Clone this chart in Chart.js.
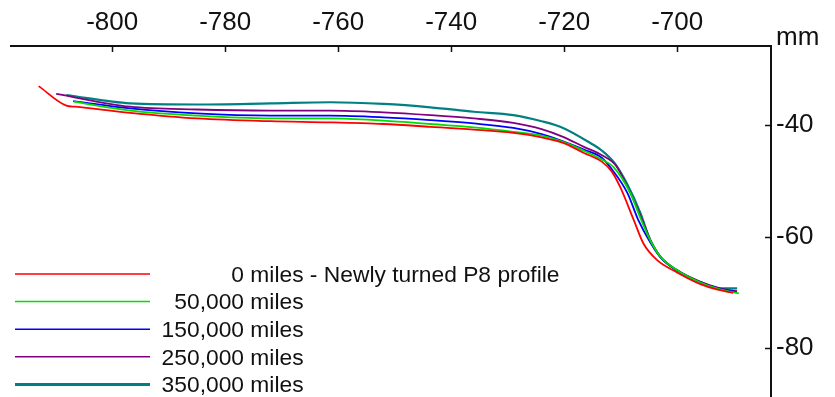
<!DOCTYPE html>
<html>
<head>
<meta charset="utf-8">
<script src="https://cdn.jsdelivr.net/npm/chart.js@4/dist/chart.umd.min.js"></script>
<style>
html, body { margin: 0; padding: 0; background: #fff; }
#wrap { width: 835px; height: 397px; position: relative; }
</style>
</head>
<body>
<div id="wrap"><canvas id="profile"></canvas></div>
<script>
// axis ticks
const xTicks = [-800, -780, -760, -740, -720, -700]
const yTicks = [-40, -60, -80]

const seriesLabels = [
    '0 miles - Newly turned P8 profile',
    '50,000 miles',
    '150,000 miles',
    '250,000 miles',
    '350,000 miles'
]
const seriesColors = ['#ff0000', '#00dd00', '#0000ff', '#800080', '#008080']

// wheel profiles (mm)
const miles0X = [-813.0, -808.1, -806.5, -796.8, -785.0, -772.0, -761.4, -752.0, -743.7, -736.0, -729.0, -724.0, -720.2, -716.5, -713.3, -711.6, -710.1, -707.7, -706.0, -703.6, -700.1, -696.0, -693.0, -690.1]
const miles0Y = [-33.0, -36.5, -36.7, -37.8, -38.8, -39.3, -39.5, -39.8, -40.3, -40.8, -41.4, -42.2, -43.2, -45.0, -46.6, -48.3, -51.1, -57.0, -61.2, -64.2, -66.4, -68.5, -69.5, -70.1]

const miles50kX = [-806.8, -796.8, -785.0, -772.0, -761.4, -752.0, -743.7, -736.0, -729.0, -724.0, -720.2, -716.5, -713.3, -711.3, -708.3, -706.5, -704.7, -703.0, -700.1, -696.0, -692.4, -689.1]
const miles50kY = [-35.8, -37.4, -38.3, -38.8, -38.8, -39.2, -39.8, -40.4, -41.2, -41.9, -43.0, -44.6, -46.2, -47.5, -52.2, -56.7, -60.8, -63.6, -66.0, -68.2, -69.5, -70.2]

const miles150kX = [-806.9, -796.8, -785.0, -772.0, -761.4, -752.0, -743.7, -736.0, -729.0, -724.0, -720.2, -716.5, -713.3, -711.9, -708.8, -706.9, -704.8, -703.0, -700.1, -696.0, -692.4, -689.5]
const miles150kY = [-35.7, -37.0, -37.9, -38.3, -38.3, -38.6, -39.1, -39.7, -40.5, -41.6, -42.9, -44.4, -45.9, -47.5, -52.2, -57.0, -61.0, -63.7, -66.1, -68.2, -69.4, -70.0]

const miles250kX = [-809.9, -796.8, -785.0, -772.0, -761.4, -752.0, -743.7, -736.0, -729.0, -724.0, -720.2, -716.5, -713.3, -710.8, -708.6, -706.4, -704.7, -703.0, -700.1, -696.0, -692.4, -689.4]
const miles250kY = [-34.4, -36.7, -37.2, -37.4, -37.4, -37.7, -38.2, -38.8, -39.6, -40.7, -42.1, -43.9, -45.4, -47.3, -51.5, -56.5, -60.7, -63.6, -66.0, -68.1, -69.3, -69.8]

const miles350kX = [-808.1, -796.8, -785.0, -772.0, -761.4, -752.0, -743.7, -736.0, -729.0, -724.0, -720.2, -715.4, -713.3, -711.1, -708.9, -706.5, -704.8, -703.0, -700.1, -696.0, -692.4, -689.4]
const miles350kY = [-34.6, -36.1, -36.3, -36.1, -35.9, -36.2, -36.8, -37.6, -38.2, -39.3, -40.5, -43.2, -44.6, -46.8, -50.5, -55.8, -60.6, -63.6, -66.0, -68.1, -69.3, -69.3]

const seriesX = [miles0X, miles50kX, miles150kX, miles250kX, miles350kX]
const seriesY = [miles0Y, miles50kY, miles150kY, miles250kY, miles350kY]

const FONT = "'Liberation Sans', Arial, sans-serif"

const toPoints = (xs, ys) => xs.map((x, i) => ({ x: x, y: ys[i] }))

const datasets = seriesLabels.map((label, i) => ({
    label: label,
    data: toPoints(seriesX[i], seriesY[i]),
    borderColor: seriesColors[i],
    borderWidth: i === 4 ? 2.2 : 1.8,
    pointRadius: 0,
    fill: false,
    cubicInterpolationMode: 'monotone'
}))

// no extra room for half labels at the axis ends
const noEndPadding = s => {
    s.paddingTop = 0
    s.paddingBottom = 0
    s.paddingLeft = 0
    s.paddingRight = 0
}

// short tick marks pointing into the plot, plus the unit and the legend
const decorations = {
    id: 'decorations',
    afterDraw(chart) {
        const c = chart.ctx
        const area = chart.chartArea
        const xs = chart.scales.x
        const ys = chart.scales.y
        c.save()
        c.strokeStyle = '#111'
        c.lineWidth = 1.5
        c.beginPath()
        xTicks.forEach(v => {
            const px = Math.round(xs.getPixelForValue(v)) + 0.5
            c.moveTo(px, area.top)
            c.lineTo(px, area.top + 6)
        })
        yTicks.forEach(v => {
            const py = Math.round(ys.getPixelForValue(v)) + 0.5
            c.moveTo(area.right - 6, py)
            c.lineTo(area.right, py)
        })
        c.stroke()

        c.fillStyle = '#111'
        c.font = '26px ' + FONT
        c.textAlign = 'left'
        c.textBaseline = 'middle'
        c.fillText('mm', area.right + 5, 38)

        // legend
        c.font = '22.8px ' + FONT
        chart.data.datasets.forEach((ds, i) => {
            const y = 274 + i * 27.6
            c.strokeStyle = ds.borderColor
            c.lineWidth = i === 4 ? 3 : 1.5
            c.beginPath()
            c.moveTo(15, y)
            c.lineTo(150, y)
            c.stroke()
            const num = ds.label.split(' ')[0]
            const rest = ds.label.slice(num.length)
            c.fillStyle = '#111'
            c.textAlign = 'right'
            c.fillText(num, 244, y + 1.5)
            c.textAlign = 'left'
            c.fillText(rest, 244, y + 1.5)
        })
        c.restore()
    }
}

new Chart(document.getElementById('profile'), {
    type: 'line',
    data: { datasets: datasets },
    options: {
        responsive: true,
        maintainAspectRatio: false,
        animation: false,
        layout: { padding: { left: 11, top: 0, right: 0, bottom: 0 } },
        plugins: {
            legend: { display: false },
            tooltip: { enabled: false }
        },
        scales: {
            x: {
                type: 'linear',
                position: 'top',
                min: -817.9,
                max: -683.4,
                afterBuildTicks: s => { s.ticks = xTicks.map(v => ({ value: v })) },
                afterFit: s => { s.height = 46; noEndPadding(s) },
                grid: { drawOnChartArea: false, drawTicks: false },
                border: { display: true, color: '#111', width: 2 },
                ticks: {
                    color: '#111',
                    padding: 8,
                    font: { family: FONT, size: 26 },
                    maxRotation: 0,
                    callback: v => String(v)
                }
            },
            y: {
                type: 'linear',
                position: 'right',
                min: -88.8,
                max: -25.8,
                afterBuildTicks: s => { s.ticks = yTicks.map(v => ({ value: v })) },
                afterFit: s => { s.width = 64; noEndPadding(s) },
                grid: { drawOnChartArea: false, drawTicks: false },
                border: { display: true, color: '#111', width: 2 },
                ticks: {
                    color: '#111',
                    padding: 5,
                    font: { family: FONT, size: 26 },
                    callback: v => String(v)
                }
            }
        }
    },
    plugins: [decorations]
})
</script>
</body>
</html>
